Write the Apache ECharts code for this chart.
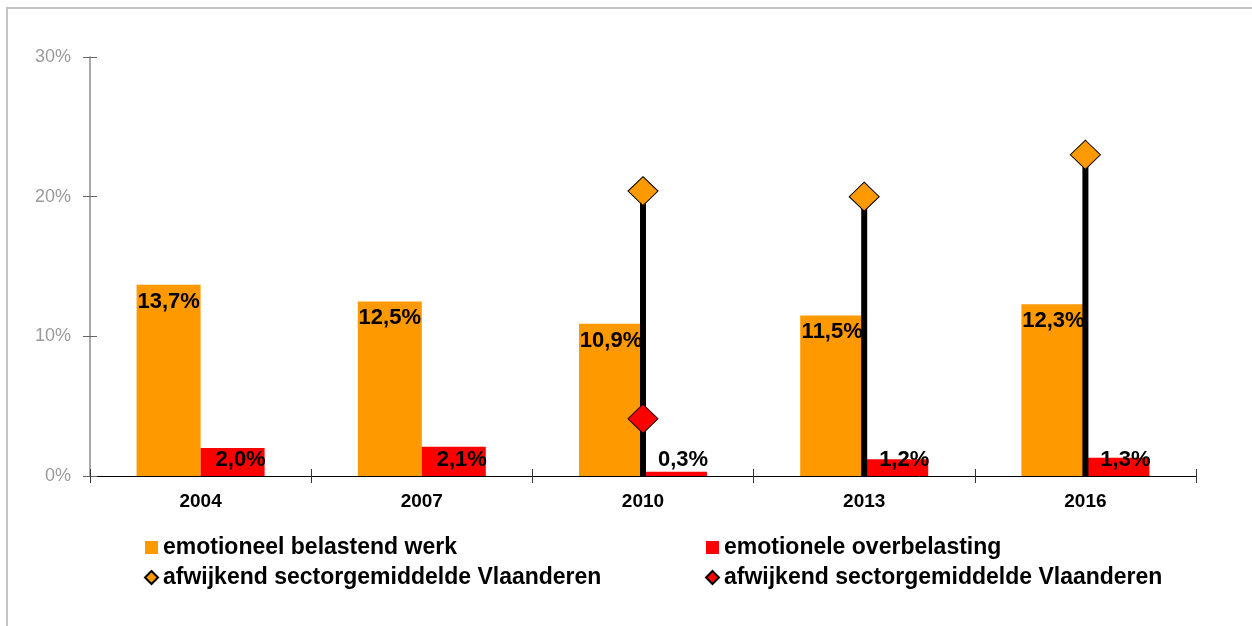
<!DOCTYPE html>
<html>
<head>
<meta charset="utf-8">
<script src="https://cdn.jsdelivr.net/npm/echarts@6/dist/echarts.min.js"></script>
<style>
html,body{margin:0;padding:0;background:#fff;overflow:hidden;}
#chart{width:1252px;height:626px;}
</style>
</head>
<body>
<div id="chart"></div>
<script>
var categories = ['2004', '2007', '2010', '2013', '2016'];
var belastendWerk = [13.7, 12.5, 10.9, 11.5, 12.3];
var overbelasting = [2.0, 2.1, 0.3, 1.2, 1.3];
var afwijkendOranje = ['-', '-', 20.4, 20.0, 23.0];
var afwijkendRood = ['-', '-', 4.1, '-', '-'];
var yTicks = [0, 10, 20, 30];

var nameWerk = 'emotioneel belastend werk';
var nameOver = 'emotionele overbelasting';
var nameAfwO = 'afwijkend sectorgemiddelde Vlaanderen';
var nameAfwR = 'afwijkend sectorgemiddelde Vlaanderen\u200b';

var FONT = '"Liberation Sans", Arial, sans-serif';
function pct(p) { return p.value.toFixed(1).replace('.', ',') + '%'; }

var legendText = { fontFamily: FONT, fontSize: 23, fontWeight: 'bold', color: '#000', lineHeight: 23 };

var chart = echarts.init(document.getElementById('chart'));
chart.setOption({
  animation: false,
  backgroundColor: '#ffffff',
  textStyle: { fontFamily: FONT },
  graphic: [{
    type: 'polyline', silent: true, z: -10,
    shape: { points: [[7, 700], [7, 8], [1300, 8]] },
    style: { fill: 'none', stroke: '#c4c4c4', lineWidth: 2 }
  }],
  grid: { left: 90, right: 56, top: 57, bottom: 150 },
  legend: [{
    left: 144, top: 536, orient: 'vertical', itemGap: 7, padding: 0,
    itemWidth: 13, itemHeight: 13,
    textStyle: legendText,
    data: [{ name: nameWerk, icon: 'rect' }, { name: nameAfwO, icon: 'diamond' }]
  }, {
    left: 705, top: 536, orient: 'vertical', itemGap: 7, padding: 0,
    itemWidth: 13, itemHeight: 13,
    textStyle: legendText,
    data: [{ name: nameOver, icon: 'rect' }, { name: nameAfwR, icon: 'diamond' }]
  }],
  xAxis: [{
    type: 'category', data: categories, position: 'bottom',
    axisLine: { lineStyle: { color: '#000', width: 1 } },
    axisTick: { show: true, length: 7, lineStyle: { color: '#333' } },
    axisLabel: { color: '#000', fontFamily: FONT, fontSize: 19, fontWeight: 'bold', margin: 16 }
  }, {
    type: 'category', data: categories, position: 'bottom',
    axisLine: { show: false },
    axisTick: { show: true, inside: true, length: 7, lineStyle: { color: '#333' } },
    axisLabel: { show: false }
  }],
  yAxis: [{
    type: 'value', min: yTicks[0], max: yTicks[yTicks.length - 1], interval: 10,
    axisLine: { show: true, lineStyle: { color: '#8c8c8c', width: 1.5 } },
    axisTick: { show: true, length: 7, lineStyle: { color: '#666' } },
    axisLabel: { formatter: '{value}%', color: '#9a9a9a', fontFamily: FONT, fontSize: 18, margin: 19 },
    splitLine: { show: false }
  }, {
    type: 'value', position: 'left', min: yTicks[0], max: yTicks[yTicks.length - 1], interval: 10,
    axisLine: { show: false },
    axisTick: { show: true, inside: true, length: 7, lineStyle: { color: '#666' } },
    axisLabel: { show: false },
    splitLine: { show: false }
  }],
  series: [{
    name: nameWerk, type: 'bar', data: belastendWerk,
    xAxisIndex: 0, yAxisIndex: 0,
    barWidth: 64, barGap: '0%',
    itemStyle: { color: '#FF9900' },
    label: {
      show: true, position: 'insideTop', distance: 6, formatter: pct,
      color: '#000', fontFamily: FONT, fontSize: 22, fontWeight: 'bold'
    },
    z: 2
  }, {
    name: nameOver, type: 'bar', data: overbelasting,
    xAxisIndex: 0, yAxisIndex: 0,
    barWidth: 64, barGap: '0%',
    itemStyle: { color: '#FF0000' },
    label: {
      show: true, position: 'insideBottom', distance: 5, offset: [8, 0], formatter: pct,
      color: '#000', fontFamily: FONT, fontSize: 22, fontWeight: 'bold'
    },
    z: 2
  }, {
    name: 'lijn', type: 'bar', data: afwijkendOranje,
    xAxisIndex: 1, yAxisIndex: 0,
    barWidth: 6,
    itemStyle: { color: '#000' },
    silent: true,
    z: 5
  }, {
    name: nameAfwO, type: 'scatter', data: afwijkendOranje,
    xAxisIndex: 0, yAxisIndex: 0,
    symbol: 'diamond', symbolSize: [30, 29],
    itemStyle: { color: '#FF9900', borderColor: '#000', borderWidth: 1, opacity: 1 },
    z: 6
  }, {
    name: nameAfwR, type: 'scatter', data: afwijkendRood,
    xAxisIndex: 0, yAxisIndex: 0,
    symbol: 'diamond', symbolSize: [30, 29],
    itemStyle: { color: '#FF0000', borderColor: '#000', borderWidth: 1, opacity: 1 },
    z: 6
  }]
});
</script>
</body>
</html>
